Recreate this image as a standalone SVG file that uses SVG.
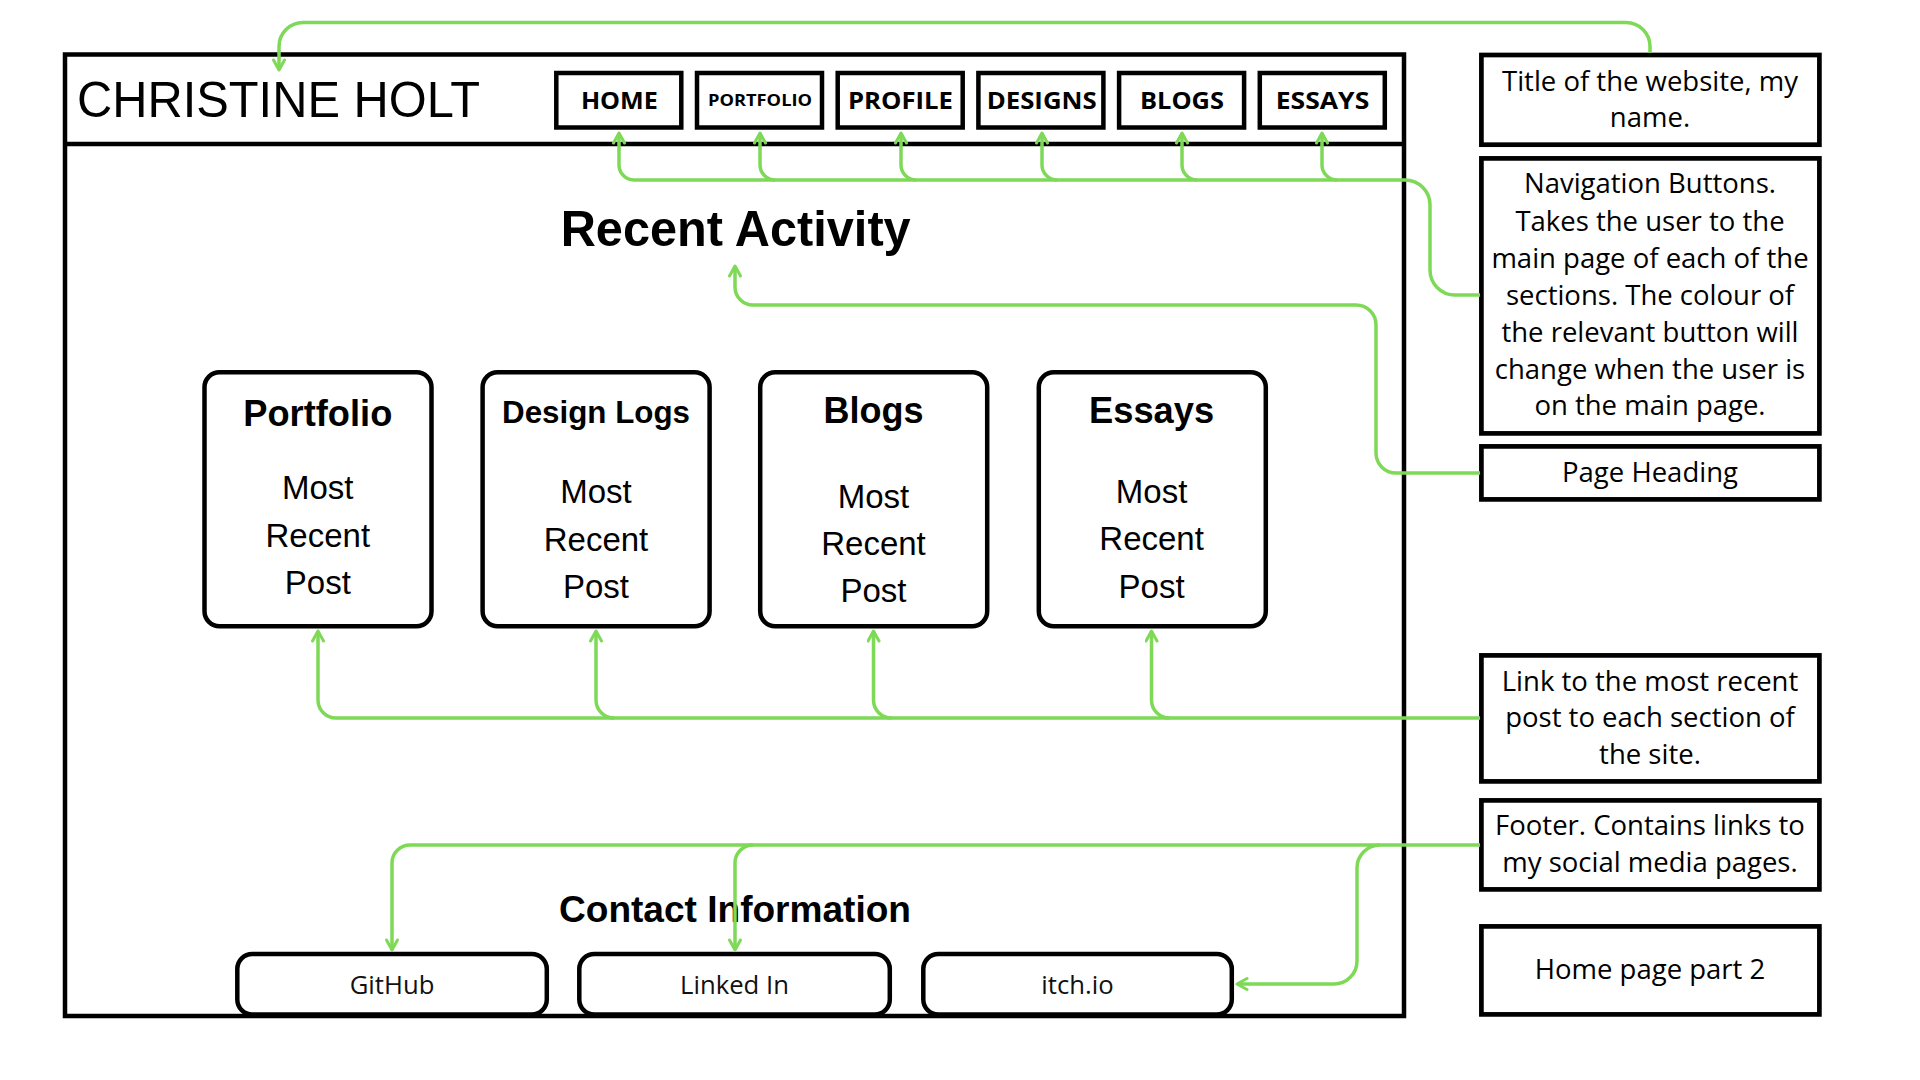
<svg xmlns="http://www.w3.org/2000/svg" width="1920" height="1080" viewBox="0 0 1920 1080">
<style>
.bg{fill:#ffffff}
.frame{fill:none;stroke:#000;stroke-width:4.5}
.box{fill:#fff;stroke:#000;stroke-width:4.5}
.card{fill:#fff;stroke:#000;stroke-width:4.5}
.note{fill:#fff;stroke:#000;stroke-width:4.7}
.conn{fill:none;stroke:#7ED957;stroke-width:3.5;stroke-linecap:butt;stroke-linejoin:round}
.site{font-family:"Liberation Sans",Arial,sans-serif;fill:#000}
.bold{font-weight:bold}
.nav{font-family:"Open Sans","Liberation Sans",sans-serif;font-weight:bold;fill:#000;text-anchor:middle}
.ann{font-family:"Open Sans","Liberation Sans",sans-serif;font-size:27.5px;fill:#000;text-anchor:middle}
.mid{text-anchor:middle}
.btn{font-family:"Open Sans","Liberation Sans",sans-serif;font-size:25.7px;fill:#111;text-anchor:middle}
</style>
<defs>
<marker id="arr" viewBox="0 0 14 14" refX="12" refY="7" markerWidth="14" markerHeight="14" markerUnits="userSpaceOnUse" orient="auto">
<path d="M2,1.5 L12,7 L2,12.5" fill="none" stroke="#7ED957" stroke-width="3" stroke-linecap="round" stroke-linejoin="round"/>
</marker>
</defs>
<rect class="bg" x="0" y="0" width="1920" height="1080"/>

<g id="page-frame">
<rect class="frame" x="65" y="54.5" width="1339" height="961.5"/>
<line x1="65" y1="144" x2="1404" y2="144" stroke="#000" stroke-width="4.5"/>
</g>

<g id="site-title">
<text class="site" x="77" y="117" font-size="50" textLength="403" lengthAdjust="spacingAndGlyphs">CHRISTINE HOLT</text>
</g>

<g id="nav-home"><rect class="box" x="556.3" y="73" width="125" height="54.5"/><text class="nav" x="619.4" y="109" font-size="24" textLength="77" lengthAdjust="spacingAndGlyphs">HOME</text></g>
<g id="nav-portfolio"><rect class="box" x="697" y="73" width="125" height="54.5"/><text class="nav" x="760" y="105.7" font-size="16.5" textLength="104" lengthAdjust="spacingAndGlyphs">PORTFOLIO</text></g>
<g id="nav-profile"><rect class="box" x="837.7" y="73" width="125" height="54.5"/><text class="nav" x="900.5" y="109" font-size="24" textLength="105" lengthAdjust="spacingAndGlyphs">PROFILE</text></g>
<g id="nav-designs"><rect class="box" x="978.4" y="73" width="125" height="54.5"/><text class="nav" x="1041.7" y="109" font-size="24" textLength="110" lengthAdjust="spacingAndGlyphs">DESIGNS</text></g>
<g id="nav-blogs"><rect class="box" x="1119.1" y="73" width="125" height="54.5"/><text class="nav" x="1182" y="109" font-size="24" textLength="84" lengthAdjust="spacingAndGlyphs">BLOGS</text></g>
<g id="nav-essays"><rect class="box" x="1259.8" y="73" width="125" height="54.5"/><text class="nav" x="1322.5" y="109" font-size="24" textLength="93.5" lengthAdjust="spacingAndGlyphs">ESSAYS</text></g>

<g id="heading-recent">
<text class="site bold mid" x="735.7" y="246" font-size="50" textLength="350" lengthAdjust="spacingAndGlyphs">Recent Activity</text>
</g>

<g id="card-portfolio">
<rect class="card" x="204.5" y="372.2" width="227" height="254" rx="15"/>
<text class="site bold mid" x="317.8" y="426" font-size="37" textLength="149" lengthAdjust="spacingAndGlyphs">Portfolio</text>
<text class="site mid" x="317.8" y="499.3" font-size="33">Most</text>
<text class="site mid" x="317.8" y="547" font-size="33">Recent</text>
<text class="site mid" x="317.8" y="593.5" font-size="33">Post</text>
</g>
<g id="card-design-logs">
<rect class="card" x="482.6" y="372.2" width="227" height="254" rx="15"/>
<text class="site bold mid" x="596" y="423.3" font-size="31.5" textLength="188" lengthAdjust="spacingAndGlyphs">Design Logs</text>
<text class="site mid" x="596" y="503.3" font-size="33">Most</text>
<text class="site mid" x="596" y="550.7" font-size="33">Recent</text>
<text class="site mid" x="596" y="598.3" font-size="33">Post</text>
</g>
<g id="card-blogs">
<rect class="card" x="760.2" y="372.2" width="227" height="254" rx="15"/>
<text class="site bold mid" x="873.5" y="422.7" font-size="36" textLength="100" lengthAdjust="spacingAndGlyphs">Blogs</text>
<text class="site mid" x="873.5" y="508.3" font-size="33">Most</text>
<text class="site mid" x="873.5" y="555" font-size="33">Recent</text>
<text class="site mid" x="873.5" y="601.7" font-size="33">Post</text>
</g>
<g id="card-essays">
<rect class="card" x="1038.8" y="372.2" width="227" height="254" rx="15"/>
<text class="site bold mid" x="1151.6" y="422.7" font-size="36" textLength="125" lengthAdjust="spacingAndGlyphs">Essays</text>
<text class="site mid" x="1151.6" y="503.3" font-size="33">Most</text>
<text class="site mid" x="1151.6" y="550" font-size="33">Recent</text>
<text class="site mid" x="1151.6" y="598.3" font-size="33">Post</text>
</g>

<g id="heading-contact">
<text class="site bold mid" x="735" y="922" font-size="37" textLength="352" lengthAdjust="spacingAndGlyphs">Contact Information</text>
</g>

<g id="btn-github"><rect class="box" x="237.3" y="954" width="309.5" height="60.5" rx="15"/><text class="btn" x="392" y="994">GitHub</text></g>
<g id="btn-linkedin"><rect class="box" x="579.3" y="954" width="310.5" height="60.5" rx="15"/><text class="btn" x="734.5" y="994">Linked In</text></g>
<g id="btn-itchio"><rect class="box" x="923.3" y="954" width="308.5" height="60.5" rx="15"/><text class="btn" x="1077.5" y="994">itch.io</text></g>

<g id="note-title">
<rect class="note" x="1481.4" y="55" width="338" height="89.7"/>
<text class="ann" x="1650" y="90.7">Title of the website, my</text>
<text class="ann" x="1650" y="127.3">name.</text>
</g>
<g id="note-nav">
<rect class="note" x="1481.4" y="158.4" width="338" height="275"/>
<text class="ann" x="1650" y="193.3">Navigation Buttons.</text>
<text class="ann" x="1650" y="230.5">Takes the user to the</text>
<text class="ann" x="1650" y="267.7">main page of each of the</text>
<text class="ann" x="1650" y="305">sections. The colour of</text>
<text class="ann" x="1650" y="341.7">the relevant button will</text>
<text class="ann" x="1650" y="379">change when the user is</text>
<text class="ann" x="1650" y="415">on the main page.</text>
</g>
<g id="note-heading">
<rect class="note" x="1481.4" y="446.4" width="338" height="53"/>
<text class="ann" x="1650" y="481.7">Page Heading</text>
</g>
<g id="note-links">
<rect class="note" x="1481.4" y="655.4" width="338" height="126"/>
<text class="ann" x="1650" y="690.7">Link to the most recent</text>
<text class="ann" x="1650" y="727">post to each section of</text>
<text class="ann" x="1650" y="764">the site.</text>
</g>
<g id="note-footer">
<rect class="note" x="1481.4" y="800.4" width="338" height="89"/>
<text class="ann" x="1650" y="835">Footer. Contains links to</text>
<text class="ann" x="1650" y="871.7">my social media pages.</text>
</g>
<g id="note-part">
<rect class="note" x="1481.4" y="926.4" width="338" height="88"/>
<text class="ann" x="1650" y="979.3">Home page part 2</text>
</g>

<g id="connectors">
<path class="conn" marker-end="url(#arr)" d="M1650,53 V46.5 A24,24 0 0 0 1626,22.5 H303 A24,24 0 0 0 279,46.5 V70"/>
<path class="conn" marker-end="url(#arr)" d="M1480,295 H1455 A25,25 0 0 1 1430,270 V205 A25,25 0 0 0 1405,180 H634 A15,15 0 0 1 619,165 V133"/>
<path class="conn" marker-end="url(#arr)" d="M775,180 A15,15 0 0 1 760,165 V133"/>
<path class="conn" marker-end="url(#arr)" d="M916,180 A15,15 0 0 1 901,165 V133"/>
<path class="conn" marker-end="url(#arr)" d="M1057,180 A15,15 0 0 1 1042,165 V133"/>
<path class="conn" marker-end="url(#arr)" d="M1197,180 A15,15 0 0 1 1182,165 V133"/>
<path class="conn" marker-end="url(#arr)" d="M1337,180 A15,15 0 0 1 1322,165 V133"/>
<path class="conn" marker-end="url(#arr)" d="M1480,473 H1396 A20,20 0 0 1 1376,453 V325 A20,20 0 0 0 1356,305 H753 A18,18 0 0 1 735,287 V266"/>
<path class="conn" marker-end="url(#arr)" d="M1480,718 H336 A18,18 0 0 1 318,700 V631"/>
<path class="conn" marker-end="url(#arr)" d="M614,718 A18,18 0 0 1 596,700 V631"/>
<path class="conn" marker-end="url(#arr)" d="M891.5,718 A18,18 0 0 1 873.5,700 V631"/>
<path class="conn" marker-end="url(#arr)" d="M1169.5,718 A18,18 0 0 1 1151.5,700 V631"/>
<path class="conn" marker-end="url(#arr)" d="M1480,845 H410 A18,18 0 0 0 392,863 V950"/>
<path class="conn" marker-end="url(#arr)" d="M753,845 A18,18 0 0 0 735,863 V950"/>
<path class="conn" marker-end="url(#arr)" d="M1380,845 A23,23 0 0 0 1357,868 V961 A23,23 0 0 1 1334,984 H1237"/>
</g>
</svg>
